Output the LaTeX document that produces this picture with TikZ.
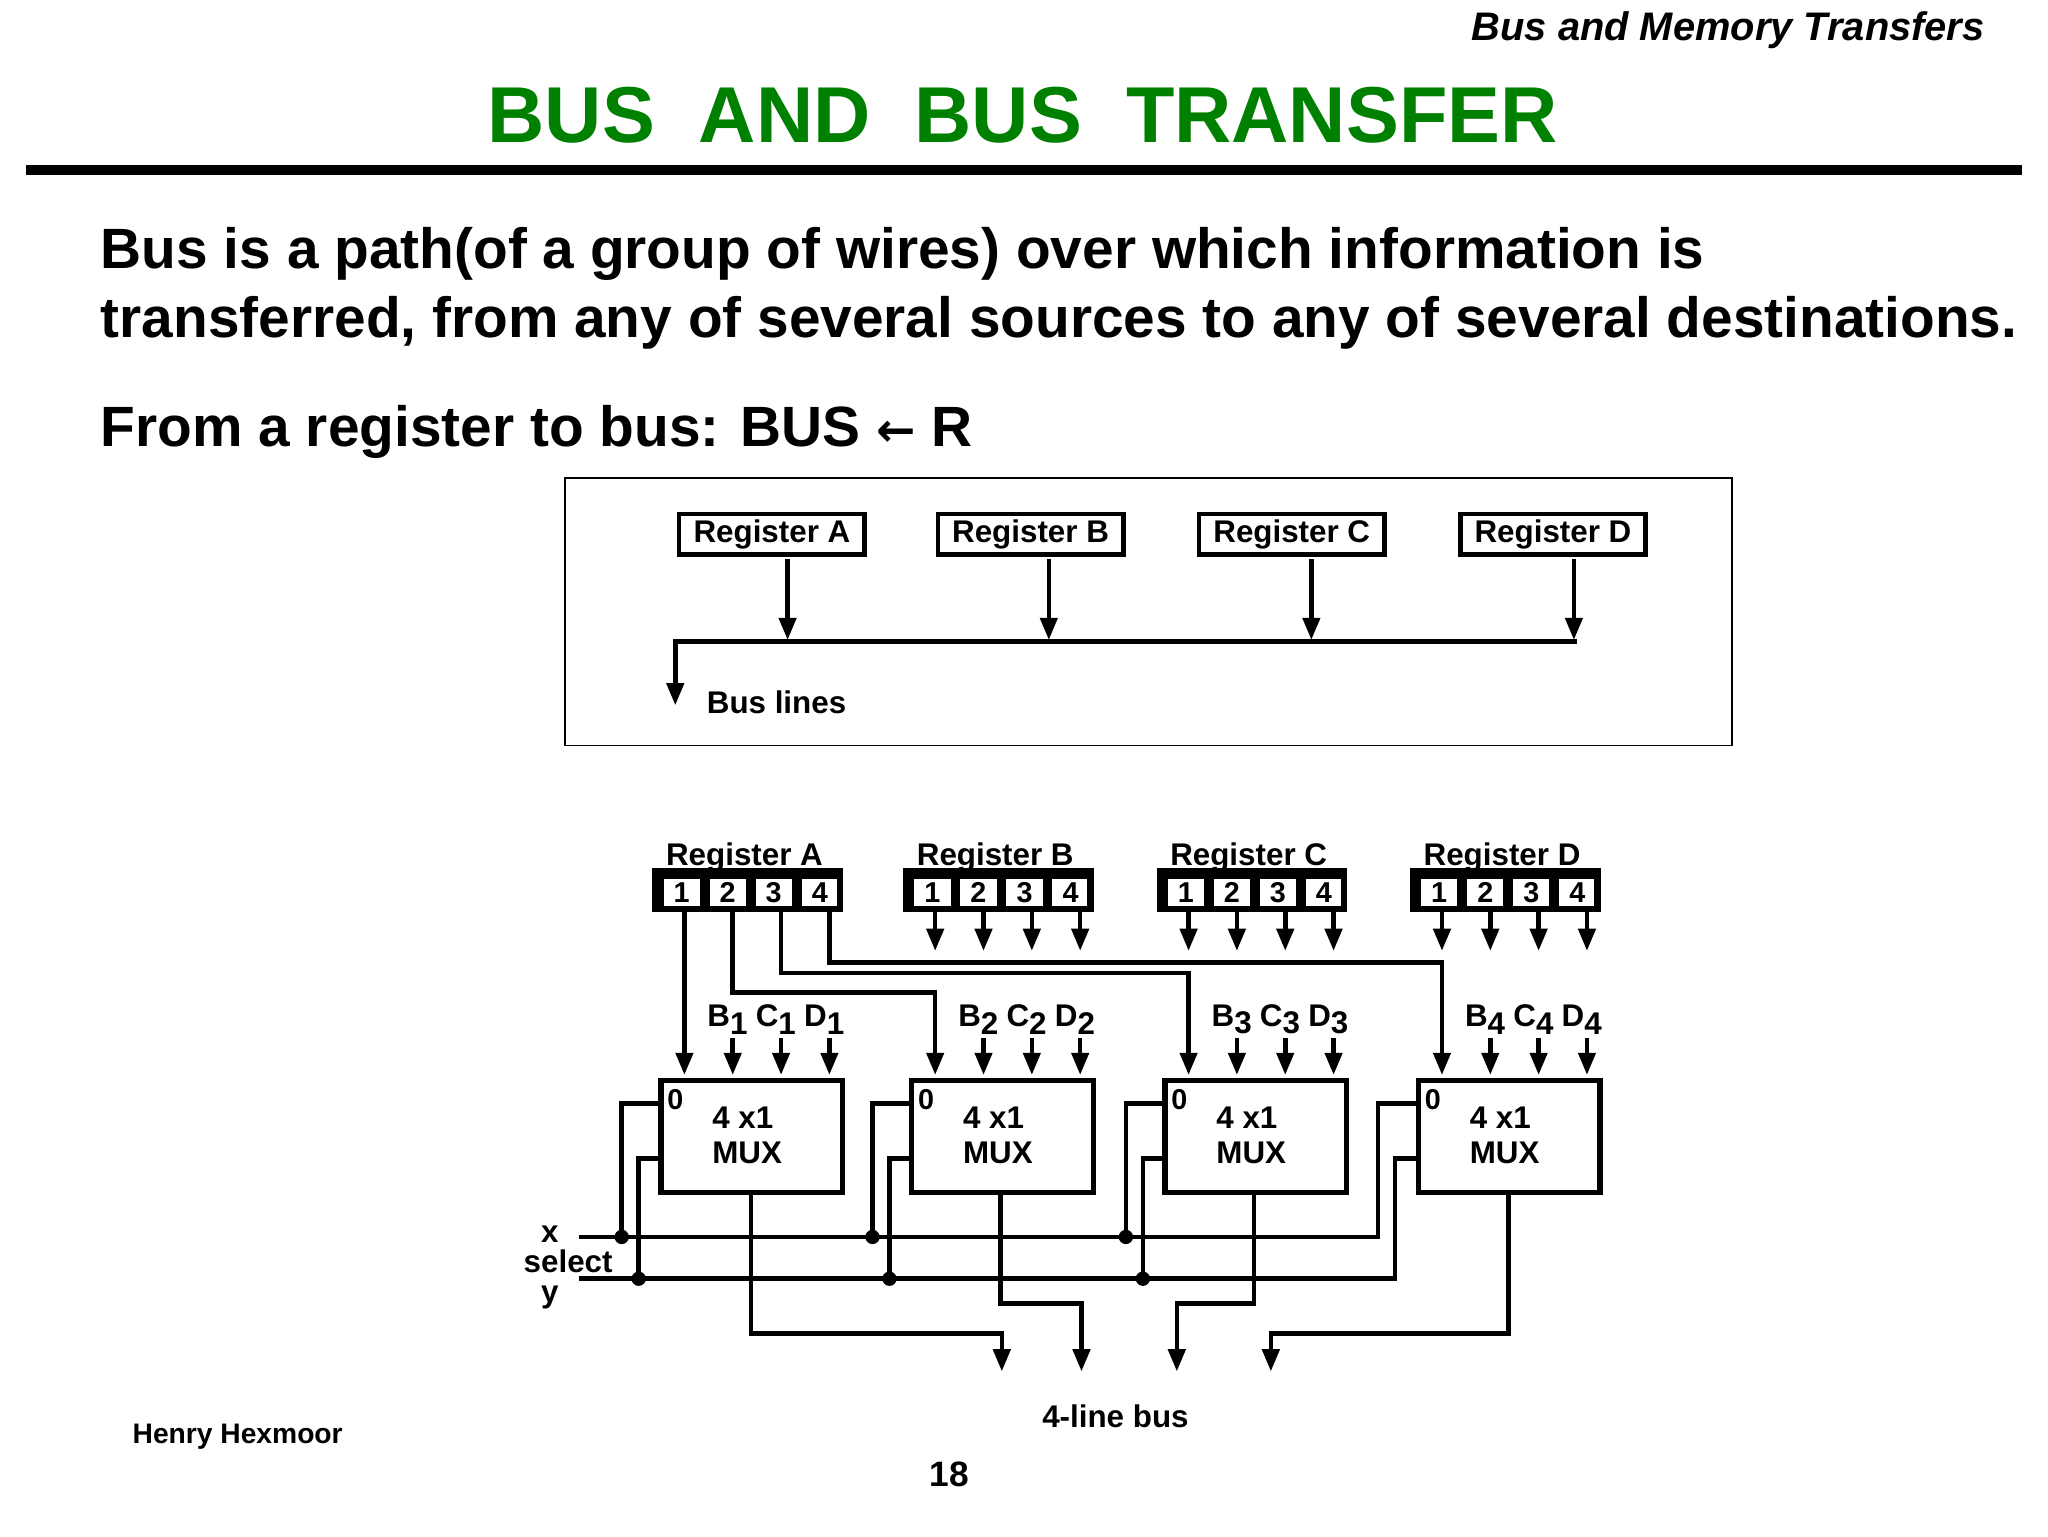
\documentclass[tikz,border=0pt]{standalone}
\usepackage{fontspec}
\setmainfont{Liberation Sans}
\newfontfamily\arrowfont{DejaVu Sans}
\usetikzlibrary{arrows.meta,calc}
\definecolor{titlegreen}{RGB}{0,128,0}
\begin{document}
\begin{tikzpicture}[x=1pt,y=-1pt,
  wire/.style={line width=3.5pt},
  arr/.style={wire,-{Triangle[length=17pt,width=13pt]}},
  regbox/.style={draw,line width=3.5pt,minimum width=142pt,minimum height=31pt,inner sep=0pt,font=\bfseries\fontsize{24}{26}\selectfont},
  cell/.style={draw,line width=4pt,minimum width=31.75pt,minimum height=25pt,inner sep=0pt,font=\bfseries\fontsize{22}{24}\selectfont},
  muxbox/.style={draw,line width=4pt,minimum width=139pt,minimum height=86pt,inner sep=0pt},
  lbl/.style={font=\bfseries\fontsize{24}{26}\selectfont,inner sep=0pt},
  dot/.style={circle,fill,inner sep=0pt,minimum size=11pt}]
\useasboundingbox (0,0) rectangle (1568,1176);
\fill[white] (0,0) rectangle (1568,1176);
% header
\node[anchor=east,font=\bfseries\itshape\fontsize{30.5}{33}\selectfont] (hdr) at (1523,23) {Bus and Memory Transfers};
\node[font=\bfseries\fontsize{60.7}{66}\selectfont,text=titlegreen] (title) at (783,88) {BUS\ \ AND\ \ BUS\ \ TRANSFER};
\draw[line width=8pt] (20,130) -- (1548,130);
\node[anchor=west,align=left,font=\bfseries\fontsize{43.5}{53}\selectfont,inner sep=0pt] (p1) at (77,221) {Bus is a path(of a group of wires) over which information is\\transferred, from any of several sources to any of several destinations.};
\node[anchor=west,font=\bfseries\fontsize{43.5}{48}\selectfont,inner sep=0pt] (p2) at (77,331) {From a register to bus: BUS {\arrowfont\fontsize{36}{40}\selectfont ←} R};
% upper box
\node[draw,line width=1.5pt,minimum width=893pt,minimum height=205pt,anchor=north west] (frame) at (432,365) {};
\foreach \n/\cx/\ax in {A/591/603,B/789/803,C/989/1004,D/1189/1205}{
  \node[regbox] (r\n) at (\cx,409) {Register \n};
  \draw[arr] (\ax,428) -- (\ax,490);
}
\draw[wire] (1207,491) -- (515.25,491);
\draw[arr] (517,489) -- (517,540);
\node[lbl,anchor=west,font=\bfseries\fontsize{24}{26}\selectfont] (bl) at (541,538) {Bus lines};
% lower diagram
\foreach \n/\X/\k in {A/502/1,B/694/2,C/888/3,D/1082/4}{
  \node[lbl,anchor=south,font=\bfseries\fontsize{24}{26}\selectfont] (lab\n) at (\X+68,668) {Register \n};
  \foreach \i in {1,2,3,4}{
    \node[cell,anchor=north west] (c\n\i) at ({\X+2+35.25*(\i-1)},669) {\i};
  }
  \draw[line width=5pt] (\X,667) rectangle (\X+141,696);
  \node[muxbox,anchor=north west] (m\k) at (\X+2,825) {};
  \node[font=\bfseries\fontsize{24}{27}\selectfont,align=left,inner sep=0pt] (mt\k) at (\X+70,869) {4 x1\\MUX};
  \node[font=\bfseries\fontsize{22}{24}\selectfont,inner sep=0pt] (z\k) at (\X+15,842) {0};
  \foreach \i/\s in {2/B,3/C,4/D}{
    \draw[arr] ({\X+22+37*(\i-1)},795) -- ({\X+22+37*(\i-1)},823);
    \node[lbl,anchor=south] (s\s\k) at ({\X+18+37*(\i-1)},792) {\s\raisebox{-0.45ex}{\k}};
  }
}
\foreach \n/\X in {B/694,C/888,D/1082}{
  \foreach \i in {1,2,3,4}{
    \draw[arr] ({\X+22+37*(\i-1)},698) -- ({\X+22+37*(\i-1)},728);
  }
}
% register A wiring
\draw[arr] (524,698) -- (524,823);
\draw[arr] (561,698) -- (561,760) -- (716,760) -- (716,823);
\draw[arr] (598,698) -- (598,745) -- (910,745) -- (910,823);
\draw[arr] (635,698) -- (635,737) -- (1104,737) -- (1104,823);
% select lines
\node[lbl] (sx) at (421,945) {x};
\node[lbl] (ssel) at (435,966) {select};
\node[lbl] (sy) at (421,993) {y};
\draw[wire] (443,947) -- (1055,947) -- (1055,845) -- (1084,845);
\draw[wire] (443,979) -- (1068,979) -- (1068,887) -- (1084,887);
\foreach \L in {502,694,888}{
  \draw[wire] (\L+2,845) -- (\L-26,845) -- (\L-26,947);
  \draw[wire] (\L+2,887) -- (\L-13,887) -- (\L-13,979);
  \node[dot] at (\L-26,947) {};
  \node[dot] at (\L-13,979) {};
}
% outputs
\draw[arr] (575,913) -- (575,1021) -- (767,1021) -- (767,1050);
\draw[arr] (766,913) -- (766,998) -- (828,998) -- (828,1050);
\draw[arr] (960,913) -- (960,998) -- (901,998) -- (901,1050);
\draw[arr] (1155,913) -- (1155,1021) -- (973,1021) -- (973,1050);
\node[lbl] (bus4) at (854,1084) {4-line bus};
\node[font=\bfseries\fontsize{21.6}{24}\selectfont] (auth) at (182,1100) {Henry Hexmoor};
\node[font=\bfseries\fontsize{27}{29}\selectfont] (pg) at (727,1129) {18};
\end{tikzpicture}
\end{document}
